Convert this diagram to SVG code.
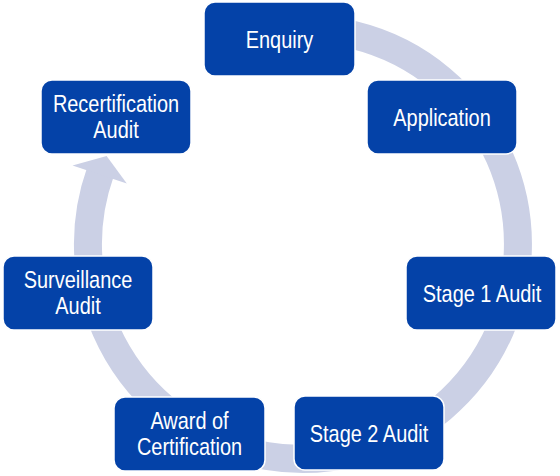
<svg xmlns="http://www.w3.org/2000/svg" width="560" height="476" viewBox="0 0 560 476">
<style>
.box{fill:#0442A8;stroke:#ffffff;stroke-width:1.5}
.lbl{font-family:"Liberation Sans",Arial,sans-serif;font-size:24px;fill:#ffffff;text-anchor:middle}
.ring{fill:none;stroke:#CBD0E5;stroke-width:28;stroke-linecap:butt}
</style>
<rect width="560" height="476" fill="#ffffff"/>
<g id="connectors">
<path class="ring" d="M265.7,32.3 A215,215 0 1 1 100.3,172.2"/>
<polygon points="72.5,165.5 126.8,183.6 106.6,156.0" fill="#CBD0E5"/>
</g>
<g id="enquiry">
<rect class="box" x="204" y="2" width="151" height="74" rx="11"/>
<text class="lbl" transform="translate(279.5,47.6) scale(0.83,1)">Enquiry</text>
</g>
<g id="application">
<rect class="box" x="367" y="80" width="150" height="74" rx="11"/>
<text class="lbl" transform="translate(442,125.7) scale(0.83,1)">Application</text>
</g>
<g id="stage1">
<rect class="box" x="406" y="256" width="150" height="74" rx="11"/>
<text class="lbl" transform="translate(482,301.7) scale(0.83,1)">Stage 1 Audit</text>
</g>
<g id="stage2">
<rect class="box" x="294" y="396" width="150" height="74" rx="11"/>
<text class="lbl" transform="translate(369,441.7) scale(0.83,1)">Stage 2 Audit</text>
</g>
<g id="award">
<rect class="box" x="114" y="397" width="151" height="74" rx="11"/>
<text class="lbl" transform="translate(189.5,429.3) scale(0.83,1)">Award of</text>
<text class="lbl" transform="translate(189.5,455) scale(0.83,1)">Certification</text>
</g>
<g id="surveillance">
<rect class="box" x="3" y="256" width="150" height="74" rx="11"/>
<text class="lbl" transform="translate(78,288.3) scale(0.83,1)">Surveillance</text>
<text class="lbl" transform="translate(78,314) scale(0.83,1)">Audit</text>
</g>
<g id="recertification">
<rect class="box" x="41" y="80" width="150" height="74" rx="11"/>
<text class="lbl" transform="translate(116,112.3) scale(0.83,1)">Recertification</text>
<text class="lbl" transform="translate(116,138) scale(0.83,1)">Audit</text>
</g>
</svg>
